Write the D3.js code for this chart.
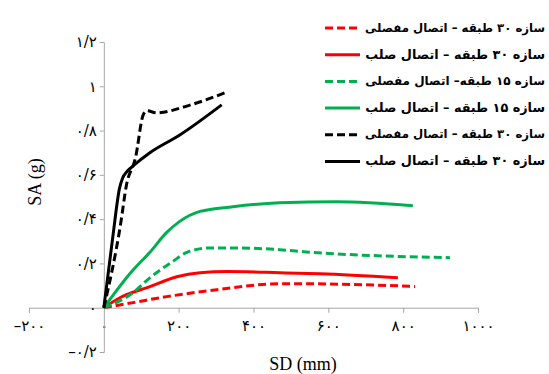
<!DOCTYPE html>
<html>
<head>
<meta charset="utf-8">
<script src="https://cdn.jsdelivr.net/npm/d3@7"></script>
<style>
  body { margin: 0; background: #fff; }
  svg { display: block; }
</style>
</head>
<body>
<script>
// series, SD (mm) and SA (g)
var names = [
  'سازه ۳۰ طبقه – اتصال مفصلی',
  'سازه ۳۰ طبقه – اتصال صلب',
  'سازه ۱۵ طبقه– اتصال مفصلی',
  'سازه ۱۵ طبقه – اتصال صلب',
  'سازه ۳۰ طبقه – اتصال مفصلی',
  'سازه ۳۰ طبقه – اتصال صلب'
];
var redDashSD = [0, 78, 168, 302, 470, 533, 832];
var redDashSA = [0, 0.023, 0.05, 0.081, 0.108, 0.108, 0.096];
var redSolidSD = [0, 43, 123, 195, 257, 329, 470, 578, 786];
var redSolidSA = [0, 0.045, 0.095, 0.14, 0.158, 0.163, 0.158, 0.153, 0.135];
var greenDashSD = [0, 78, 123, 185, 222, 283, 345, 470, 533, 925];
var greenDashSA = [0, 0.068, 0.135, 0.21, 0.25, 0.27, 0.27, 0.262, 0.253, 0.226];
var greenSolidSD = [0, 78, 123, 168, 203, 257, 345, 470, 623, 826];
var greenSolidSA = [0, 0.17, 0.25, 0.34, 0.39, 0.435, 0.456, 0.474, 0.479, 0.461];
var blackDashSD = [0, 45, 60, 85, 105, 115, 140, 230, 330];
var blackDashSA = [0, 0.38, 0.55, 0.68, 0.87, 0.89, 0.88, 0.915, 0.975];
var blackSolidSD = [0, 24, 42, 50, 62, 78, 123, 203, 315];
var blackSolidSA = [0, 0.32, 0.54, 0.585, 0.615, 0.64, 0.7, 0.78, 0.916];

var xTicks = [-200, 0, 200, 400, 600, 800, 1000];
var xTickLabels = ['–۲۰۰', '۰', '۲۰۰', '۴۰۰', '۶۰۰', '۸۰۰', '۱۰۰۰'];
var yTicks = [-0.2, 0, 0.2, 0.4, 0.6, 0.8, 1, 1.2];
var yTickLabels = ['–۰/۲', '۰', '۰/۲', '۰/۴', '۰/۶', '۰/۸', '۱', '۱/۲'];

var w = 549, h = 374;

var svg = d3.select('body').append('svg')
  .attr('width', w)
  .attr('height', h);

var x = d3.scaleLinear().domain([-200, 1000]).range([29, 478]);
var y = d3.scaleLinear().domain([-0.2, 1.2]).range([352, 42]);

var axisColor = '#a6a6a6';
var tickFont = '"DejaVu Sans", sans-serif';

// x axis at SA = 0
var gx = svg.append('g')
  .attr('transform', 'translate(0,' + y(0) + ')')
  .call(d3.axisBottom(x).tickValues(xTicks).tickSizeOuter(0).tickSize(5)
    .tickFormat((d, i) => xTickLabels[i]));

// y axis at SD = 0
var gy = svg.append('g')
  .attr('transform', 'translate(' + x(0) + ',0)')
  .call(d3.axisLeft(y).tickValues(yTicks).tickSizeOuter(0).tickSize(4)
    .tickFormat((d, i) => yTickLabels[i]));

[gx, gy].forEach(g => {
  g.selectAll('path, line').attr('stroke', axisColor);
  g.selectAll('text')
    .attr('font-family', tickFont)
    .attr('font-size', 15)
    .attr('fill', '#000');
});
gx.selectAll('text').attr('dy', '1.05em');
gx.selectAll('.tick').filter(d => d === 0).select('line').remove();
gy.selectAll('.tick').filter(d => d === 0).select('line').remove();
gy.selectAll('text').attr('x', -7);

// the x "0" label sits on the y axis with a white backing
gx.selectAll('.tick').filter(d => d === 0).insert('rect', 'text')
  .attr('x', -5).attr('y', 9).attr('width', 10).attr('height', 22)
  .attr('fill', '#fff');

var series = [
  { sd: redDashSD, sa: redDashSA, color: '#ff0000', dash: true },
  { sd: redSolidSD, sa: redSolidSA, color: '#ff0000', dash: false },
  { sd: greenDashSD, sa: greenDashSA, color: '#00b050', dash: true },
  { sd: greenSolidSD, sa: greenSolidSA, color: '#00b050', dash: false },
  { sd: blackDashSD, sa: blackDashSA, color: '#000000', dash: true },
  { sd: blackSolidSD, sa: blackSolidSA, color: '#000000', dash: false }
];

var line = d3.line()
  .x(d => x(d[0]))
  .y(d => y(d[1]))
  .curve(d3.curveMonotoneX);

svg.selectAll('path.curve')
  .data(series)
  .enter()
  .append('path')
    .attr('class', 'curve')
    .attr('d', s => line(s.sd.map((v, i) => [v, s.sa[i]])))
    .attr('fill', 'none')
    .attr('stroke', s => s.color)
    .attr('stroke-width', 3)
    .attr('stroke-dasharray', s => s.dash ? '8,4' : null);

// legend
var legend = svg.selectAll('g.leg')
  .data(series)
  .enter()
  .append('g')
    .attr('class', 'leg')
    .attr('transform', (d, i) => 'translate(0,' + (28 + i * 26.7) + ')');

legend.append('line')
  .attr('x1', 325).attr('x2', 360)
  .attr('y1', 0).attr('y2', 0)
  .attr('stroke', s => s.color)
  .attr('stroke-width', 3)
  .attr('stroke-dasharray', s => s.dash ? '8,4' : null);

legend.append('text')
  .attr('x', 545)
  .attr('y', 0)
  .attr('dy', '0.3em')
  .attr('text-anchor', 'end')
  .attr('font-family', tickFont)
  .attr('font-size', 14)
  .attr('font-weight', 'bold')
  .text((s, i) => names[i])
  .each(function () {
    // shrink to the room between swatch and right edge
    var len = this.getComputedTextLength();
    if (len > 180) d3.select(this).attr('font-size', 14 * 180 / len);
  });

// axis titles
svg.append('text')
  .attr('transform', 'translate(41,182) rotate(-90)')
  .attr('text-anchor', 'middle')
  .attr('font-family', '"Liberation Serif", serif')
  .attr('font-size', 18)
  .text('SA (g)');

svg.append('text')
  .attr('x', 303)
  .attr('y', 370)
  .attr('text-anchor', 'middle')
  .attr('font-family', '"Liberation Serif", serif')
  .attr('font-size', 18)
  .text('SD (mm)');
</script>
</body>
</html>
